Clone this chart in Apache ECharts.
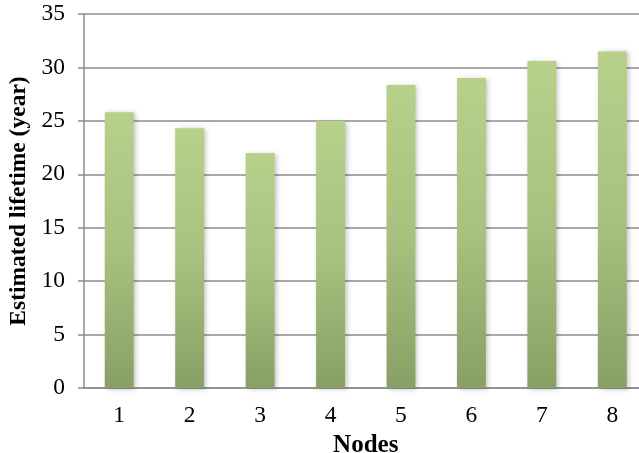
<!DOCTYPE html>
<html>
<head>
<meta charset="utf-8">
<script src="https://cdn.jsdelivr.net/npm/echarts@6/dist/echarts.min.js"></script>
<style>
  html, body { margin: 0; padding: 0; background: #fff; }
  #chart { width: 639px; height: 453px; }
</style>
</head>
<body>
<div id="chart"></div>
<script>
// Node indices along the horizontal axis
const nodes = ['1', '2', '3', '4', '5', '6', '7', '8'];
// Estimated lifetime per node, in years
const lifetimeYears = [25.8, 24.3, 22.0, 25.0, 28.35, 29.0, 30.6, 31.5];
// Vertical axis range and step
const yMin = 0;
const yMax = 35;
const yStep = 5;

const chart = echarts.init(document.getElementById('chart'));
const serif = '"Liberation Serif", "Times New Roman", serif';

chart.setOption({
  animation: false,
  backgroundColor: '#ffffff',
  grid: { left: 84, right: -8.5, top: 14, bottom: 65, containLabel: false, outerBoundsMode: 'none' },
  xAxis: {
    type: 'category',
    data: nodes,
    name: 'Nodes',
    nameLocation: 'middle',
    nameGap: 36,
    nameTextStyle: { fontFamily: serif, fontSize: 25, fontWeight: 'bold', color: '#000' },
    axisLine: { show: true, lineStyle: { color: '#8c8c8c', width: 1.5 } },
    axisTick: { show: false },
    axisLabel: { fontFamily: serif, fontSize: 23.5, color: '#000', margin: 16 },
    splitLine: { show: false }
  },
  yAxis: {
    type: 'value',
    min: yMin,
    max: yMax,
    interval: yStep,
    name: 'Estimated lifetime (year)',
    nameLocation: 'middle',
    nameGap: 50,
    nameTextStyle: { fontFamily: serif, fontSize: 23.5, fontWeight: 'bold', color: '#000' },
    axisLine: { show: true, lineStyle: { color: '#8c8c8c', width: 1.5 } },
    axisTick: { show: true, length: 6, lineStyle: { color: '#8c8c8c', width: 1.5 } },
    axisLabel: { fontFamily: serif, fontSize: 23.5, color: '#000', margin: 19 },
    splitLine: { show: true, lineStyle: { color: '#8c8c8c', width: 1.5 } }
  },
  series: [{
    type: 'bar',
    data: lifetimeYears,
    barWidth: '41%',
    itemStyle: {
      color: new echarts.graphic.LinearGradient(0, 0, 0, 1, [
        { offset: 0, color: '#b7d08a' },
        { offset: 0.5, color: '#a8c17e' },
        { offset: 1, color: '#88a065' }
      ]),
      shadowColor: 'rgba(0,0,0,0.25)',
      shadowBlur: 5,
      shadowOffsetX: 2,
      shadowOffsetY: 1
    }
  }]
});
</script>
</body>
</html>
